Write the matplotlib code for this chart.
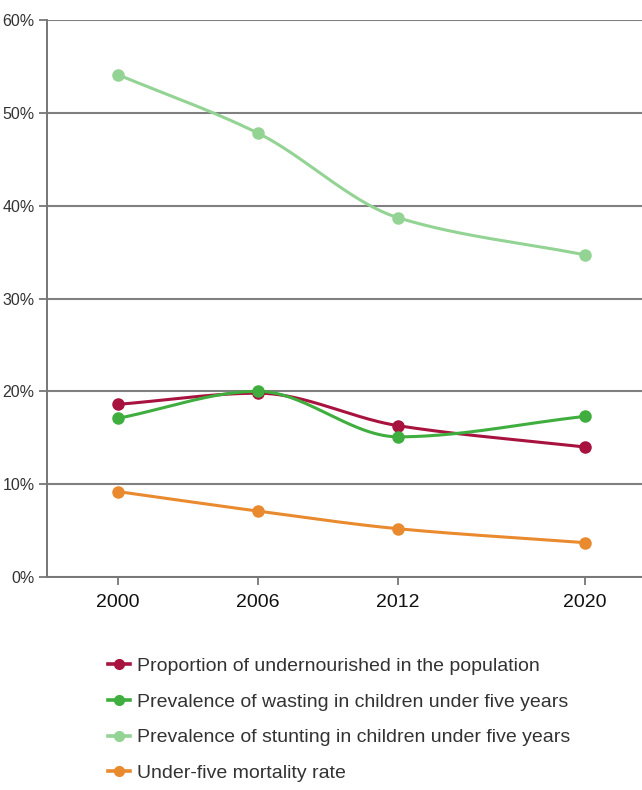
import numpy as np
import matplotlib.pyplot as plt
from matplotlib.ticker import FuncFormatter

# data (percent)
years = [2000, 2006, 2012, 2020]
undernourished = [18.6, 19.8, 16.3, 14.0]
wasting = [17.1, 20.0, 15.1, 17.3]
stunting = [54.1, 47.8, 38.7, 34.7]
mortality = [9.2, 7.1, 5.2, 3.7]

labels = ["Proportion of undernourished in the population",
          "Prevalence of wasting in children under five years",
          "Prevalence of stunting in children under five years",
          "Under-five mortality rate"]
colors = ["#a8123e", "#3fae3f", "#93d393", "#ea8a2e"]


def monotone_curve(x, y, n=200):
    # Fritsch-Carlson monotone cubic, only used to draw the smooth line
    x = np.asarray(x, float)
    y = np.asarray(y, float)
    h = np.diff(x)
    d = np.diff(y) / h
    m = np.zeros_like(y)
    m[0], m[-1] = d[0], d[-1]
    for i in range(1, len(x) - 1):
        if d[i - 1] * d[i] <= 0:
            m[i] = 0
        else:
            w1 = 2 * h[i] + h[i - 1]
            w2 = h[i] + 2 * h[i - 1]
            m[i] = (w1 + w2) / (w1 / d[i - 1] + w2 / d[i])
    xs = np.linspace(x[0], x[-1], n)
    idx = np.clip(np.searchsorted(x, xs) - 1, 0, len(x) - 2)
    t = (xs - x[idx]) / h[idx]
    h00 = 2 * t**3 - 3 * t**2 + 1
    h10 = t**3 - 2 * t**2 + t
    h01 = -2 * t**3 + 3 * t**2
    h11 = t**3 - t**2
    ys = h00 * y[idx] + h10 * h[idx] * m[idx] + h01 * y[idx + 1] + h11 * h[idx] * m[idx + 1]
    return xs, ys


fig = plt.figure(figsize=(6.42, 7.9), dpi=100)
ax = fig.add_axes([0.0732, 0.2696, 0.9268, 0.7051])
font = "Liberation Sans"

series = [undernourished, wasting, stunting, mortality]
for vals, lab, col in zip(series, labels, colors):
    xs, ys = monotone_curve(years, vals)
    ax.plot(xs, ys, color=col, lw=2.2, zorder=3)
    ax.plot(years, vals, "o", color=col, ms=8, zorder=4)
    ax.plot([], [], color=col, lw=2.6, marker="o", ms=7, label=lab)

ax.set_xlim(1996.95, 2022.45)
ax.set_ylim(0, 60)
ax.set_yticks(range(0, 61, 10))
ax.yaxis.set_major_formatter(FuncFormatter(lambda v, p: f"{v:.0f}%"))
ax.set_xticks(years)
ax.grid(axis="y", color="#808080", lw=1.5, zorder=1)
for s in ["top", "right"]:
    ax.spines[s].set_visible(False)
for s in ["left", "bottom"]:
    ax.spines[s].set_color("#777777")
    ax.spines[s].set_linewidth(1.4)
ax.tick_params(axis="y", length=6, color="#808080", width=1.4, pad=3)
ax.tick_params(axis="x", length=6, color="#808080", width=1.4, pad=6)
for t in ax.get_yticklabels():
    t.set_fontfamily(font)
    t.set_fontsize(11.5)
    t.set_color("#333333")
for t in ax.get_xticklabels():
    t.set_fontfamily(font)
    t.set_fontsize(14)
    t.set_color("#111111")

fig.legend(loc="upper left", bbox_to_anchor=(0.141, 0.19), frameon=False,
           prop={"family": font, "size": 14}, handlelength=1.15, handletextpad=0.35,
           labelspacing=0.93, labelcolor="#333333")

fig.savefig("out.png", dpi=100)
